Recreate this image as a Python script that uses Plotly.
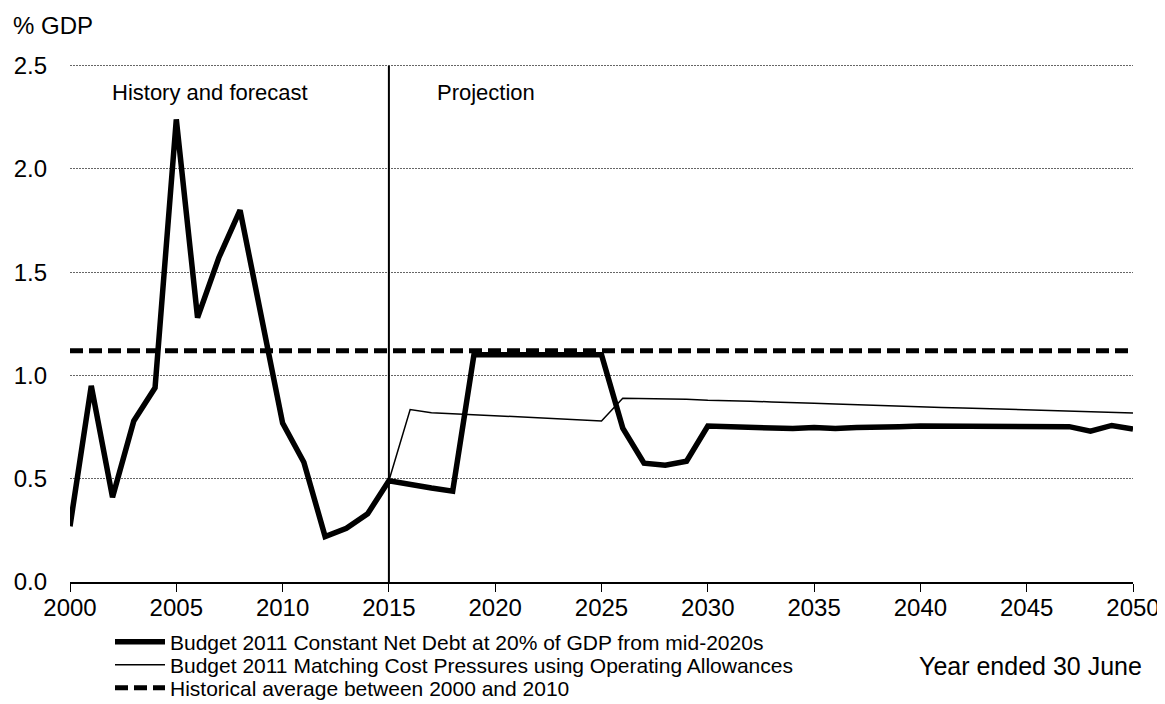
import plotly.graph_objects as go

years = list(range(2000, 2051))
constant_net_debt = [
    0.27, 0.95, 0.41, 0.78, 0.94, 2.24, 1.28, 1.57, 1.80, 1.29,
    0.77, 0.58, 0.22, 0.26, 0.33, 0.49, 0.47, 0.455, 0.44, 1.10,
    1.10, 1.10, 1.10, 1.10, 1.10, 1.10, 0.745, 0.575, 0.565, 0.585,
    0.755, 0.752, 0.748, 0.748, 0.743, 0.748, 0.743, 0.748, 0.748, 0.752,
    0.755, 0.755, 0.758, 0.758, 0.755, 0.758, 0.755, 0.752, 0.73, 0.758,
    0.74,
]
proj_years = list(range(2015, 2051))
matching_cost = [
    0.49, 0.835, 0.82, 0.815, 0.81, 0.805, 0.80, 0.795, 0.79, 0.785,
    0.78, 0.89, 0.888, 0.888, 0.885, 0.88, 0.876, 0.875, 0.872, 0.867,
    0.865, 0.862, 0.858, 0.856, 0.853, 0.848, 0.845, 0.843, 0.84, 0.835,
    0.833, 0.83, 0.826, 0.823, 0.82, 0.818,
]
hist_years = [2000, 2050]
hist_avg = [1.12, 1.12]
divider_years = [2015, 2015]
divider_range = [0, 2.5]

names = [
    "Budget 2011 Constant Net Debt at 20% of GDP from mid-2020s",
    "Budget 2011 Matching Cost Pressures using Operating Allowances",
    "Historical average between 2000 and 2010",
]

FONT = "Arial, Liberation Sans, sans-serif"
# page has an 8px body margin; figure sized so it fills the 1165x704 window
OFF = 8
W, H = 1165 - OFF, 704 - OFF
# plot-area edges in window pixels
PL, PR, PT, PB = 70, 1133, 64, 582


def px_x(px):
    return (px - PL) / (PR - PL)


def px_y(py):
    return (PB - py) / (PB - PT)


fig = go.Figure()
fig.add_trace(go.Scatter(x=divider_years, y=divider_range, mode="lines",
                         line=dict(color="black", width=2), showlegend=False,
                         hoverinfo="skip"))
fig.add_trace(go.Scatter(x=hist_years, y=hist_avg, mode="lines", name=names[2],
                         line=dict(color="black", width=5, dash="13px,6px"),
                         legend="legend3"))
fig.add_trace(go.Scatter(x=proj_years, y=matching_cost, mode="lines", name=names[1],
                         line=dict(color="black", width=1.5), legend="legend2"))
fig.add_trace(go.Scatter(x=years, y=constant_net_debt, mode="lines", name=names[0],
                         line=dict(color="black", width=5.5), legend="legend"))


def leg(py):
    return dict(x=px_x(110), y=px_y(py), xanchor="left", yanchor="middle",
                orientation="v",
                font=dict(family=FONT, size=21, color="black"),
                bgcolor="rgba(0,0,0,0)", borderwidth=0, itemwidth=50,
                tracegroupgap=0)


fig.update_layout(
    width=W, height=H,
    margin=dict(l=PL - OFF, r=(W + OFF) - PR, t=PT - OFF, b=(H + OFF) - PB,
                autoexpand=False),
    paper_bgcolor="white", plot_bgcolor="white",
    font=dict(family=FONT, size=24, color="black"),
    legend=leg(642), legend2=leg(665), legend3=leg(688),
    xaxis=dict(range=[2000, 2050], tickmode="linear", tick0=2000, dtick=5,
               showgrid=False, zeroline=False, showline=True, linecolor="black",
               linewidth=1.5, ticks="outside", ticklen=8, tickcolor="black",
               tickwidth=1, tickfont=dict(size=24), ticklabelstandoff=-5,
               automargin=False),
    yaxis=dict(range=[0, 2.508], tickmode="linear", tick0=0, dtick=0.5,
               tickformat=".1f", showgrid=True, gridcolor="#666666",
               griddash="2px,1px", gridwidth=1, zeroline=False, showline=False,
               ticks="", ticklabelstandoff=22, tickfont=dict(size=24),
               automargin=False),
    annotations=[
        dict(text="% GDP", xref="paper", yref="paper", x=px_x(11), y=px_y(25),
             xanchor="left", yanchor="middle", showarrow=False,
             font=dict(size=24)),
        dict(text="History and forecast", xref="paper", yref="paper",
             x=px_x(210), y=px_y(92), xanchor="center",
             yanchor="middle", showarrow=False, font=dict(size=22)),
        dict(text="Projection", xref="paper", yref="paper",
             x=px_x(486), y=px_y(92), xanchor="center",
             yanchor="middle", showarrow=False, font=dict(size=22)),
        dict(text="Year ended 30 June", xref="paper", yref="paper",
             x=px_x(1030), y=px_y(666), xanchor="center",
             yanchor="middle", showarrow=False, font=dict(size=25)),
    ],
)

fig.write_html("out.html")
